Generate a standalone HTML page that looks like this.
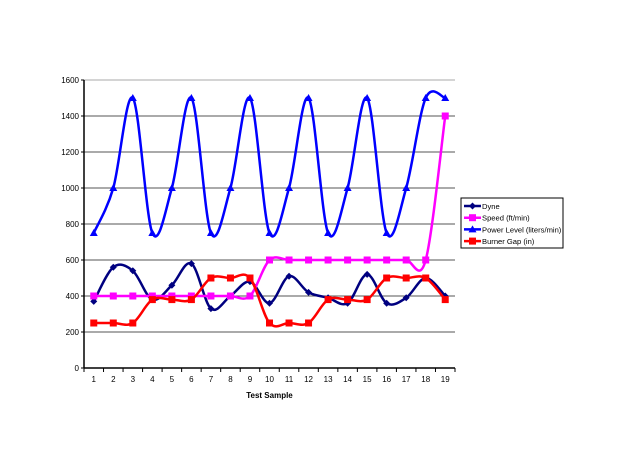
<!DOCTYPE html>
<html><head><meta charset="utf-8"><style>
body{margin:0;background:#fff;width:622px;height:465px;overflow:hidden}
svg{display:block;font-family:"Liberation Sans",Arial,sans-serif}
</style></head><body>
<svg id="c" width="622" height="465" xmlns="http://www.w3.org/2000/svg"></svg>
<script>
const s=document.getElementById('c');
const X0=84,X1=455,Y0=368,K=288/1600,W=(X1-X0)/19;
const cx=i=>X0+W*(i+0.5), cy=v=>Y0-v*K;
let h='';
for(let v=200;v<=1600;v+=200){h+=`<line x1="${X0}" x2="${X1}" y1="${cy(v)}" y2="${cy(v)}" stroke="${v==1600?'#aaa':'#555'}" stroke-width="1"/>`;}
for(let v=0;v<=1600;v+=200){h+=`<line x1="${X0-3}" x2="${X0}" y1="${cy(v)}" y2="${cy(v)}" stroke="#000"/><text x="${X0-5}" y="${cy(v)+3}" font-size="8" text-anchor="end">${v}</text>`;}
for(let i=0;i<=19;i++){h+=`<line x1="${X0+W*i}" x2="${X0+W*i}" y1="${Y0}" y2="${Y0+4}" stroke="#000"/>`;}
for(let i=0;i<19;i++){h+=`<text x="${cx(i)}" y="${Y0+14}" font-size="8" text-anchor="middle">${i+1}</text>`;}
h+=`<line x1="${X0}" x2="${X0}" y1="${cy(1600)}" y2="${Y0}" stroke="#000" stroke-width="1.5"/><line x1="${X0}" x2="${X1}" y1="${Y0}" y2="${Y0}" stroke="#000" stroke-width="1.5"/>`;
h+=`<text x="${(X0+X1)/2}" y="398" font-size="8" font-weight="bold" text-anchor="middle">Test Sample</text>`;
function path(d){const p=d.map((v,i)=>[cx(i),cy(v)]);let o=`M${p[0][0]},${p[0][1]}`;for(let i=0;i<p.length-1;i++){const a=p[i-1]||p[i],b=p[i],c=p[i+1],e=p[i+2]||c,t=1/6;o+=` C${b[0]+(c[0]-a[0])*t},${b[1]+(c[1]-a[1])*t} ${c[0]-(e[0]-b[0])*t},${c[1]-(e[1]-b[1])*t} ${c[0]},${c[1]}`;}return o;}
function mk(x,y,t,c){if(t=='d')return `<polygon points="${x},${y-3.5} ${x+3.5},${y} ${x},${y+3.5} ${x-3.5},${y}" fill="${c}"/>`;if(t=='s')return `<rect x="${x-3.5}" y="${y-3.5}" width="7" height="7" fill="${c}"/>`;return `<polygon points="${x},${y-4} ${x+4},${y+3} ${x-4},${y+3}" fill="${c}"/>`;}
const S=[
["Dyne","#000080","d",[370,560,540,380,460,580,330,400,480,360,510,420,390,360,520,360,390,500,400]],
["Speed (ft/min)","#ff00ff","s",[400,400,400,400,400,400,400,400,400,600,600,600,600,600,600,600,600,600,1400]],
["Power Level (liters/min)","#0000ff","t",[750,1000,1500,750,1000,1500,750,1000,1500,750,1000,1500,750,1000,1500,750,1000,1500,1500]],
["Burner Gap (in)","#ff0000","s",[250,250,250,380,380,380,500,500,500,250,250,250,380,380,380,500,500,500,380]]];
for(const [n,c,t,d] of S){h+=`<path d="${path(d)}" fill="none" stroke="${c}" stroke-width="2.5"/>`;d.forEach((v,i)=>h+=mk(cx(i),cy(v),t,c));}
h+=`<rect x="461" y="198" width="102" height="50" fill="#fff" stroke="#000" stroke-width="1"/>`;
S.forEach(([n,c,t],k)=>{const y=206+k*11.7;h+=`<line x1="464" x2="481" y1="${y}" y2="${y}" stroke="${c}" stroke-width="2.5"/>`+mk(472.5,y,t,c)+`<text x="482" y="${y+3}" font-size="7.6">${n}</text>`;});
s.innerHTML=h;
</script>
</body></html>
